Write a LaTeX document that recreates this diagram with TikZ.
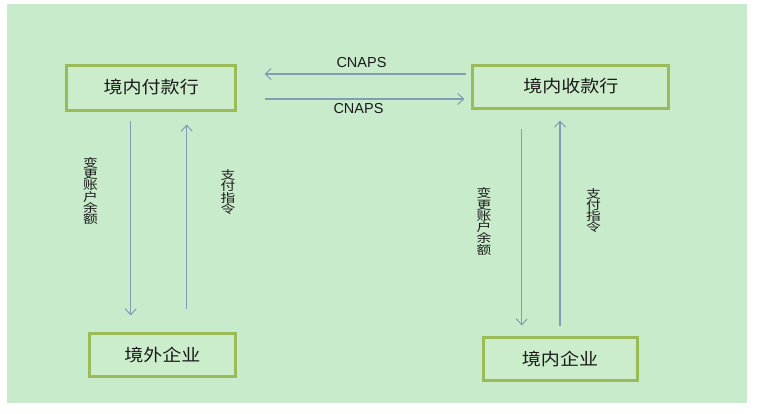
\documentclass[tikz,border=0pt]{standalone}
\usepackage{fontspec}
\newfontfamily\cjk[FakeStretch=1.12]{Noto Sans CJK SC}
\newfontfamily\cjkwide[FakeStretch=1.25]{Noto Sans CJK SC}
\newfontfamily\latinsans{Liberation Sans}
\newcommand\myvfont{\cjkwide\fontsize{11.8}{11.3}\selectfont\lineskiplimit=-20pt\relax}
\usetikzlibrary{arrows.meta}
\definecolor{bggreen}{HTML}{C8EBCB}
\definecolor{boxfill}{HTML}{CCEDCB}
\definecolor{boxline}{HTML}{9BBB59}
\definecolor{arrcol}{HTML}{7F9DB3}
\definecolor{txt}{HTML}{1A1A1A}
\tikzset{
  bankbox/.style={draw=boxline, line width=3pt, fill=boxfill, inner sep=0pt,
    font=\cjk\fontsize{17}{17}\selectfont, text=txt},
  arr/.style={draw=arrcol, line width=1.3pt, -{Straight Barb[length=6pt,width=11pt,line width=1pt]}},
  vlabel/.style={font=\myvfont, align=center, inner sep=0pt, text=txt},
  cnaps/.style={font=\latinsans\fontsize{14.5}{14.5}\selectfont, inner sep=0pt, text=txt}
}
\begin{document}
\begin{tikzpicture}[x=1pt,y=-1pt]
\useasboundingbox (0,0) rectangle (758,413);
\fill[white] (0,0) rectangle (758,413);
\fill[bggreen] (7,4) rectangle (747,403);

\node[bankbox, minimum width=169pt, minimum height=45pt] (pay) at (151.2,87.5) {境内付款行};
\node[bankbox, minimum width=196pt, minimum height=43pt] (recv) at (570.9,86.5) {境内收款行};
\node[bankbox, minimum width=146.7pt, minimum height=43pt] (fore) at (162.4,354.5) {境外企业};
\node[bankbox, minimum width=154pt, minimum height=43pt] (dom) at (560,358.5) {境内企业};

% horizontal CNAPS arrows
\draw[arr] ([xshift=-5.7pt,yshift=12.5pt]recv.west) -- ([xshift=27.3pt,yshift=13.5pt]pay.east);
\draw[arr] ([xshift=27.3pt,yshift=-11.5pt]pay.east) -- ([xshift=-7pt,yshift=-12.5pt]recv.west);
\node[cnaps] (c1) at (361.5,63) {CNAPS};
\node[cnaps] (c2) at (358.5,109) {CNAPS};

% left vertical arrows
\draw[arr] ([xshift=-20.5pt,yshift=-9pt]pay.south) -- ([xshift=-31.7pt,yshift=16pt]fore.north);
\draw[arr] ([xshift=24.3pt,yshift=23pt]fore.north) -- ([xshift=35.5pt,yshift=-13pt]pay.south);
% right vertical arrows
\draw[arr] ([xshift=-49.2pt,yshift=-19pt]recv.south) -- ([xshift=-38.3pt,yshift=10pt]dom.north);
\draw[arr] ([yshift=10pt]dom.north) -- ([xshift=-10.9pt,yshift=-11pt]recv.south);

% vertical labels
\node[vlabel] (l1) at (90.5,191) {变\\更\\账\\户\\余\\额};
\node[vlabel] (l2) at (228,192) {支\\付\\指\\令};
\node[vlabel] (l3) at (484,221.5) {变\\更\\账\\户\\余\\额};
\node[vlabel] (l4) at (593.5,210.5) {支\\付\\指\\令};
\end{tikzpicture}
\end{document}
